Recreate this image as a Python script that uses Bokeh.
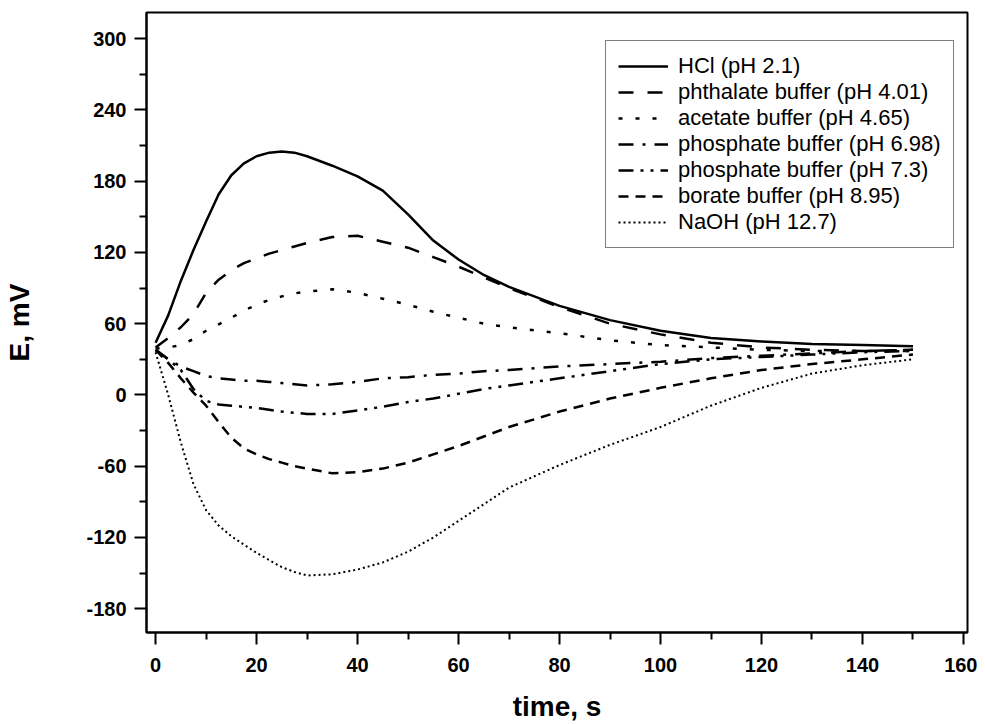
from bokeh.plotting import figure
from bokeh.models import Range1d, FixedTicker, Legend, LegendItem
from bokeh.embed import file_html
from bokeh.resources import INLINE

# ---- data ----
time_s = [0, 2.5, 5, 7.5, 10, 12.5, 15, 17.5, 20, 22.5, 25, 27.5, 30, 35, 40, 45, 50, 55, 60,
          65, 70, 80, 90, 100, 110, 120, 130, 140, 150]

hcl = [44, 67, 96, 122, 146, 169, 185, 195, 201, 204, 205, 204, 201, 193, 184, 172, 152, 130, 114,
       101, 91, 75, 63, 54, 48, 45, 43, 42, 41]
phthalate = [40, 48, 57, 68, 86, 97, 105, 111, 115, 119, 122, 125, 128, 133, 134, 129, 124, 116, 108,
             99, 90, 74, 60, 51, 44, 40, 38, 37, 38]
acetate = [39, 40, 42, 47, 54, 59.5, 65, 71, 76, 80, 83, 85.5, 87, 89, 86, 81, 76, 70, 65,
           60, 57, 52, 46, 42, 40, 38, 37, 37, 37]
phosphate_698 = [38, 30, 24, 20, 16, 14, 13, 12, 12, 11, 10, 9, 8, 9, 11, 14, 15, 17, 18,
                 20, 21, 24, 26, 28, 31, 33, 35, 37, 38]
phosphate_73 = [38, 30, 21, 5, -5, -8, -9, -10, -11, -12.5, -14, -15, -16, -16, -13, -10, -6, -3, 1,
                5, 8, 14, 20, 26, 30, 32, 34, 36, 37]
borate = [38, 27, 14, 2, -9, -23, -36, -45, -50, -54, -57, -60, -62, -66, -65, -62, -57, -50, -43,
          -35, -27, -14, -3, 6, 14, 21, 26, 30, 34]
naoh = [36, 0, -40, -75, -97, -110, -119, -126, -133, -139, -145, -149, -152, -151, -147, -141, -132, -120, -106,
        -92, -78, -59, -42, -27, -9, 6, 18, 25, 30]

series_labels = ["HCl (pH 2.1)", "phthalate buffer (pH 4.01)", "acetate buffer (pH 4.65)",
                 "phosphate buffer (pH 6.98)", "phosphate buffer (pH 7.3)",
                 "borate buffer (pH 8.95)", "NaOH (pH 12.7)"]

x_major_ticks = [0, 20, 40, 60, 80, 100, 120, 140, 160]
x_minor_ticks = [10, 30, 50, 70, 90, 110, 130, 150]
y_major_ticks = [-180, -120, -60, 0, 60, 120, 180, 240, 300]
y_minor_ticks = [-150, -90, -30, 30, 90, 150, 210, 270]

# ---- styles ----
series_values = [hcl, phthalate, acetate, phosphate_698, phosphate_73, borate, naoh]
dashes = ["solid", "15 14", "4 13", "15 9 3 9", "15 7 3 7 3 7", "10 7", "2 3"]
widths = [2.5, 2.5, 2.5, 2.5, 2.5, 2.5, 2]

p = figure(width=977, height=724, output_backend="svg", toolbar_location=None,
           x_range=Range1d(-1.8, 160.8), y_range=Range1d(-200, 322),
           min_border_left=146, min_border_right=10, min_border_top=12, min_border_bottom=91)

p.xgrid.visible = False
p.ygrid.visible = False
p.outline_line_color = "black"
p.outline_line_width = 2
p.background_fill_color = "white"
p.border_fill_color = "white"

items = []
for lab, vals, dash, w in zip(series_labels, series_values, dashes, widths):
    r = p.line(time_s, vals, line_color="black", line_width=w, line_dash=dash,
               line_join="round")
    items.append(LegendItem(label=lab, renderers=[r]))

legend = Legend(items=items, location=(459, 384))
legend.border_line_color = "black"
legend.border_line_width = 1
legend.background_fill_color = "white"
legend.background_fill_alpha = 1
legend.label_text_font = "Liberation Sans"
legend.label_text_font_size = "22px"
legend.label_text_color = "black"
legend.glyph_width = 50
legend.glyph_height = 20
legend.label_height = 20
legend.label_standoff = 10
legend.spacing = 0
legend.padding = 12
legend.margin = 0
p.add_layout(legend, "center")

for ax in (p.xaxis[0], p.yaxis[0]):
    ax.axis_line_width = 2
    ax.major_tick_line_width = 2
    ax.minor_tick_line_width = 2
    ax.major_tick_in = 0
    ax.major_tick_out = 12
    ax.minor_tick_in = 0
    ax.minor_tick_out = 7
    ax.major_label_text_font = "Liberation Sans"
    ax.major_label_text_font_style = "bold"
    ax.major_label_text_color = "black"
    ax.axis_label_text_font = "Liberation Sans"
    ax.axis_label_text_font_style = "bold"
    ax.axis_label_text_font_size = "28px"
    ax.axis_label_text_color = "black"

p.xaxis.ticker = FixedTicker(ticks=x_major_ticks, minor_ticks=x_minor_ticks)
p.yaxis.ticker = FixedTicker(ticks=y_major_ticks, minor_ticks=y_minor_ticks)
p.yaxis.major_label_overrides = {t: str(t) for t in y_major_ticks}
p.xaxis.major_label_text_font_size = "20px"
p.yaxis.major_label_text_font_size = "20px"
p.xaxis.major_label_standoff = 13
p.yaxis.major_label_standoff = 8
p.xaxis.axis_label = "time, s"
p.yaxis.axis_label = "E, mV"
p.xaxis.axis_label_standoff = 16
p.yaxis.axis_label_standoff = 48

open("out.html", "w").write(file_html(p, INLINE))
